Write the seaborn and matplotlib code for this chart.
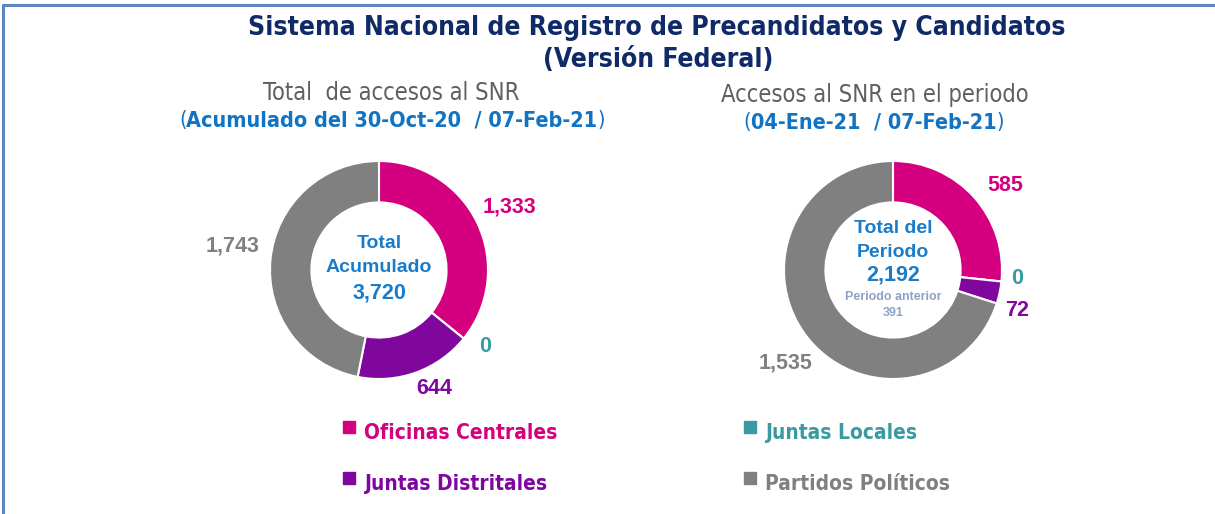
import matplotlib
matplotlib.use("Agg")
import matplotlib.pyplot as plt
import seaborn as sns
import numpy as np

sns.set_theme(style="white")
plt.rcParams['font.family'] = ['Liberation Sans', 'DejaVu Sans']

# ---- data ----
categories = ["Oficinas Centrales", "Juntas Locales", "Juntas Distritales", "Partidos Políticos"]
acumulado = [1333, 0, 644, 1743]
periodo = [585, 0, 72, 1535]
total_acumulado = 3720
total_periodo = 2192
periodo_anterior = 391

title_lines = ["Sistema Nacional de Registro de Precandidatos y Candidatos", "(Versión Federal)"]
left_sub = ["Total  de accesos al SNR", "Acumulado del 30-Oct-20  / 07-Feb-21"]
right_sub = ["Accesos al SNR en el periodo", "04-Ene-21  / 07-Feb-21"]

colors = ["#D5007F", "#3A9AA2", "#80079E", "#808080"]
palette = sns.color_palette(colors)

NARROW = ['DejaVu Sans', 'Liberation Sans']
W, H = 1215, 514
fig = plt.figure(figsize=(W / 100, H / 100), dpi=100)
fig.patch.set_facecolor("white")

def fx(px):
    return px / W

def fy(py):
    return 1 - py / H

# border lines (top and left)
border = "#5B86C2"
fig.add_artist(plt.Line2D([fx(3), 1], [fy(5), fy(5)], color=border, lw=2.2, transform=fig.transFigure))
fig.add_artist(plt.Line2D([fx(3), fx(3)], [fy(5), 0], color=border, lw=2.2, transform=fig.transFigure))

# titles
navy = "#0F2A66"
fig.text(fx(657), fy(28), title_lines[0], ha="center", va="center", fontsize=19,
         fontweight="bold", color=navy, family=NARROW, fontstretch="condensed")
fig.text(fx(658), fy(60), title_lines[1], ha="center", va="center", fontsize=19,
         fontweight="bold", color=navy, family=NARROW, fontstretch="condensed")

gray_t = "#5F5F5F"
blue_t = "#1173C4"
fig.text(fx(391), fy(93), left_sub[0], ha="center", va="center", fontsize=17,
         color=gray_t, family=NARROW, fontstretch="condensed")
fig.text(fx(875), fy(95), right_sub[0], ha="center", va="center", fontsize=17,
         color=gray_t, family=NARROW, fontstretch="condensed")

renderer = fig.canvas.get_renderer()

def paren_text(cx, cy, body):
    t = fig.text(fx(cx), fy(cy), body, ha="center", va="center", fontsize=15.5,
                 fontweight="bold", color=blue_t, family=NARROW, fontstretch="condensed")
    bb = t.get_window_extent(renderer)
    fig.text(bb.x0 / W, fy(cy), "(", ha="right", va="center", fontsize=15.5,
             color=blue_t, family=NARROW, fontstretch="condensed")
    fig.text(bb.x1 / W, fy(cy), ")", ha="left", va="center", fontsize=15.5,
             color=blue_t, family=NARROW, fontstretch="condensed")

paren_text(392, 120, left_sub[1])
paren_text(874, 122, right_sub[1])

R = 109  # outer radius in px
AX = 400  # axes size in px
lim = AX / (2 * R)

def donut(cx, cy, values):
    ax = fig.add_axes([fx(cx - AX / 2), fy(cy + AX / 2), AX / W, AX / H])
    wedges, _ = ax.pie(values, colors=palette, startangle=90, counterclock=False,
                       radius=1.0, wedgeprops=dict(width=0.38, edgecolor="white", linewidth=1.5))
    ax.set_xlim(-lim, lim)
    ax.set_ylim(-lim, lim)
    ax.set_aspect("equal")
    ax.axis("off")
    return ax, wedges

def polar(ang, dist):
    a = np.deg2rad(ang)
    return dist * np.cos(a), dist * np.sin(a)

LBL = 15.5
center_blue = "#1A7CC9"

# left donut
axL, wl = donut(379, 270, acumulado)
left_label_pos = [(25.7, 1.33), (-36, 1.20), (-65, 1.20), (170.5, 1.36)]
for v, c, (ang, d) in zip(acumulado, colors, left_label_pos):
    x, y = polar(ang, d)
    axL.text(x, y, f"{v:,}", ha="center", va="center", fontsize=LBL, fontweight="bold", color=c)
axL.text(0, 0.24, "Total", ha="center", va="center", fontsize=14, fontweight="bold", color=center_blue)
axL.text(0, 0.02, "Acumulado", ha="center", va="center", fontsize=14, fontweight="bold", color=center_blue)
axL.text(0, -0.21, f"{total_acumulado:,}", ha="center", va="center", fontsize=LBL, fontweight="bold", color=center_blue)

# right donut
axR, wr = donut(893, 270, periodo)
right_label_pos = [(37, 1.29), (-3.7, 1.14), (-18, 1.20), (-139, 1.30)]
for v, c, (ang, d) in zip(periodo, colors, right_label_pos):
    x, y = polar(ang, d)
    axR.text(x, y, f"{v:,}", ha="center", va="center", fontsize=LBL, fontweight="bold", color=c)
axR.text(0, 0.385, "Total del", ha="center", va="center", fontsize=14, fontweight="bold", color=center_blue)
axR.text(0, 0.165, "Periodo", ha="center", va="center", fontsize=14, fontweight="bold", color=center_blue)
axR.text(0, -0.046, f"{total_periodo:,}", ha="center", va="center", fontsize=LBL, fontweight="bold", color=center_blue)
axR.text(0, -0.25, "Periodo anterior", ha="center", va="center", fontsize=9, fontweight="bold", color="#8DA3C6")
axR.text(0, -0.395, f"{periodo_anterior}", ha="center", va="center", fontsize=9, fontweight="bold", color="#8DA3C6")

# legend
legend_pos = [(349, 430), (750, 430), (349, 481), (750, 481)]
for (lx, ly), name, c in zip(legend_pos, categories, colors):
    fig.patches.append(plt.Rectangle((fx(lx - 6), fy(ly + 3)), 12 / W, 12 / H, color=c,
                                     transform=fig.transFigure, figure=fig))
    fig.text(fx(lx + 15), fy(ly + 3), name, ha="left", va="center", fontsize=15,
             fontweight="bold", color=c, family=NARROW, fontstretch="condensed")

fig.savefig("out.png", dpi=100, facecolor="white")
